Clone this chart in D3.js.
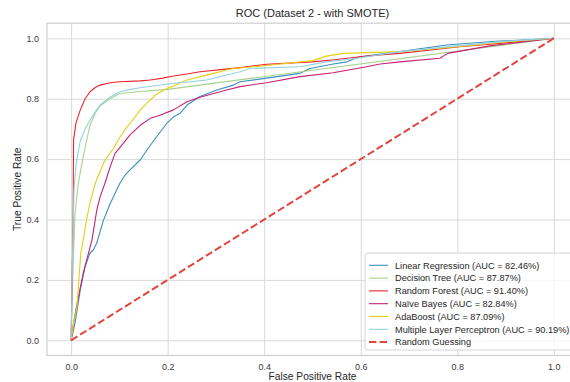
<!DOCTYPE html>
<html>
<head>
<meta charset="utf-8">
<script src="https://cdn.jsdelivr.net/npm/d3@7"></script>
<style>
  html, body { margin: 0; padding: 0; background: #ffffff; }
  svg { display: block; font-family: "Liberation Sans", Arial, sans-serif; }
</style>
</head>
<body>
<svg id="chart" width="570" height="382"></svg>
<script>
// ROC curves per classifier (false positive rate, true positive rate)
const lrFpr = [0, 0.008, 0.019, 0.029, 0.039, 0.046, 0.053, 0.060, 0.067, 0.081, 0.101, 0.112, 0.122, 0.143, 0.157, 0.177, 0.198, 0.212, 0.226, 0.240, 0.267, 0.302, 0.336, 0.350, 0.405, 0.474, 0.495, 0.543, 0.571, 0.598, 0.681, 0.778, 0.880, 1.0];
const lrTpr = [0, 0.057, 0.167, 0.244, 0.289, 0.299, 0.322, 0.360, 0.398, 0.453, 0.520, 0.548, 0.564, 0.597, 0.630, 0.674, 0.718, 0.740, 0.752, 0.779, 0.807, 0.829, 0.845, 0.856, 0.868, 0.884, 0.900, 0.915, 0.922, 0.939, 0.956, 0.978, 0.990, 1.0];

const dtFpr = [0, 0.003, 0.008, 0.015, 0.020, 0.029, 0.039, 0.050, 0.060, 0.080, 0.101, 0.143, 0.200, 1.0];
const dtTpr = [0, 0.200, 0.420, 0.520, 0.565, 0.640, 0.712, 0.752, 0.776, 0.800, 0.817, 0.824, 0.831, 1.0];

const rfFpr = [0, 0.004, 0.005, 0.010, 0.019, 0.029, 0.039, 0.050, 0.060, 0.081, 0.100, 0.143, 0.164, 0.190, 0.212, 0.240, 0.267, 0.315, 0.350, 0.405, 0.500, 0.550, 0.598, 0.640, 0.681, 0.805, 0.900, 1.0];
const rfTpr = [0, 0.400, 0.663, 0.720, 0.763, 0.800, 0.823, 0.837, 0.845, 0.853, 0.856, 0.859, 0.862, 0.868, 0.875, 0.882, 0.889, 0.897, 0.903, 0.914, 0.922, 0.930, 0.939, 0.945, 0.950, 0.972, 0.985, 1.0];

const nbFpr = [0, 0.005, 0.015, 0.025, 0.036, 0.043, 0.048, 0.053, 0.060, 0.070, 0.081, 0.091, 0.108, 0.122, 0.143, 0.164, 0.184, 0.212, 0.240, 0.267, 0.322, 0.350, 0.405, 0.474, 0.543, 0.612, 0.640, 0.681, 0.764, 0.780, 0.867, 0.950, 1.0];
const nbTpr = [0, 0.057, 0.144, 0.222, 0.289, 0.332, 0.380, 0.430, 0.475, 0.520, 0.575, 0.619, 0.652, 0.680, 0.712, 0.735, 0.745, 0.763, 0.790, 0.805, 0.829, 0.840, 0.853, 0.873, 0.886, 0.906, 0.915, 0.922, 0.934, 0.950, 0.975, 0.990, 1.0];

const adaFpr = [0, 0.005, 0.012, 0.017, 0.020, 0.025, 0.032, 0.039, 0.050, 0.060, 0.070, 0.088, 0.100, 0.115, 0.122, 0.143, 0.160, 0.177, 0.198, 0.212, 0.240, 0.281, 0.322, 0.335, 0.405, 0.500, 0.529, 0.564, 0.681, 0.800, 0.900, 1.0];
const adaTpr = [0, 0.057, 0.111, 0.222, 0.289, 0.332, 0.400, 0.454, 0.520, 0.560, 0.597, 0.636, 0.670, 0.705, 0.718, 0.762, 0.790, 0.815, 0.834, 0.842, 0.862, 0.878, 0.895, 0.900, 0.910, 0.926, 0.941, 0.950, 0.956, 0.972, 0.988, 1.0];

const mlpFpr = [0, 0.003, 0.006, 0.010, 0.014, 0.019, 0.029, 0.039, 0.050, 0.060, 0.080, 0.101, 0.120, 0.143, 0.212, 0.246, 0.281, 0.350, 0.370, 0.474, 0.529, 0.592, 0.681, 0.800, 0.900, 1.0];
const mlpTpr = [0, 0.300, 0.500, 0.580, 0.620, 0.660, 0.700, 0.729, 0.757, 0.779, 0.805, 0.823, 0.830, 0.836, 0.851, 0.856, 0.862, 0.889, 0.900, 0.906, 0.922, 0.934, 0.956, 0.975, 0.990, 1.0];

const chanceFpr = [0, 1];
const chanceTpr = [0, 1];

const modelNames = ["Linear Regression", "Decision Tree", "Random Forest", "Naive Bayes", "AdaBoost", "Multiple Layer Perceptron"];
const aucLabels = ["82.46%", "87.87%", "91.40%", "82.84%", "87.09%", "90.19%"];
const modelColors = ["#3a8fc0", "#a9d18e", "#e8262c", "#c42374", "#e6cf10", "#92d2e2"];
const tickValues = [0.0, 0.2, 0.4, 0.6, 0.8, 1.0];

const series = [
  { fpr: lrFpr, tpr: lrTpr },
  { fpr: dtFpr, tpr: dtTpr },
  { fpr: rfFpr, tpr: rfTpr },
  { fpr: nbFpr, tpr: nbTpr },
  { fpr: adaFpr, tpr: adaTpr },
  { fpr: mlpFpr, tpr: mlpTpr }
].map((s, i) => ({
  name: modelNames[i] === "Naive Bayes" ? "Naïve Bayes" : modelNames[i],
  label: (modelNames[i] === "Naive Bayes" ? "Naïve Bayes" : modelNames[i]) + " (AUC = " + aucLabels[i] + ")",
  color: modelColors[i],
  points: s.fpr.map((f, j) => [f, s.tpr[j]])
}));

const svg = d3.select("#chart");
const W = 570, H = 382;
svg.append("rect").attr("width", W).attr("height", H).attr("fill", "#ffffff");

const plot = { left: 47, right: 578, top: 23.2, bottom: 355.4 };
const x = d3.scaleLinear().domain([-0.05, 1.05]).range([plot.left, plot.right]);
const y = d3.scaleLinear().domain([-0.05, 1.05]).range([plot.bottom, plot.top]);

// grid
const xAxis = d3.axisBottom(x).tickValues(tickValues).tickFormat(d3.format(".1f"))
  .tickSize(-(plot.bottom - plot.top)).tickPadding(7);
const yAxis = d3.axisLeft(y).tickValues(tickValues).tickFormat(d3.format(".1f"))
  .tickSize(-(plot.right - plot.left)).tickPadding(8);

const gx = svg.append("g").attr("transform", `translate(0,${plot.bottom})`).call(xAxis);
const gy = svg.append("g").attr("transform", `translate(${plot.left},0)`).call(yAxis);
[gx, gy].forEach(g => {
  g.select(".domain").remove();
  g.selectAll(".tick line").attr("stroke", "#d9d9d9").attr("stroke-width", 1);
  g.selectAll(".tick text").attr("fill", "#3a3a3a").style("font-size", "9px");
});
gx.selectAll(".tick text").attr("dy", "0.9em");

// frame
svg.append("rect")
  .attr("x", plot.left).attr("y", plot.top)
  .attr("width", plot.right - plot.left).attr("height", plot.bottom - plot.top)
  .attr("fill", "none").attr("stroke", "#cfcfcf").attr("stroke-width", 1.2);

const line = d3.line().x(d => x(d[0])).y(d => y(d[1]));

const curves = svg.append("g");
series.forEach(s => {
  curves.append("path")
    .datum(s.points)
    .attr("d", line)
    .attr("fill", "none")
    .attr("stroke", s.color)
    .attr("stroke-width", 1.1)
    .attr("stroke-linejoin", "round");
});

const chanceColor = "#e2453d";
curves.append("path")
  .datum(chanceFpr.map((f, i) => [f, chanceTpr[i]]))
  .attr("d", line)
  .attr("fill", "none")
  .attr("stroke", chanceColor)
  .attr("stroke-width", 2)
  .attr("stroke-dasharray", "7.4,3.2");

// title and axis labels
svg.append("text").attr("x", (plot.left + plot.right) / 2).attr("y", 17)
  .attr("text-anchor", "middle").style("font-size", "11px").attr("fill", "#262626")
  .text("ROC (Dataset 2 - with SMOTE)");
svg.append("text").attr("x", (plot.left + plot.right) / 2).attr("y", 380)
  .attr("text-anchor", "middle").style("font-size", "10.2px").attr("fill", "#262626")
  .text("False Positive Rate");
svg.append("text").attr("transform", `translate(21,${(plot.top + plot.bottom) / 2}) rotate(-90)`)
  .attr("text-anchor", "middle").style("font-size", "10.2px").attr("fill", "#262626")
  .text("True Positive Rate");

// legend
const legendItems = series.map(s => ({ label: s.label, color: s.color, dashed: false }))
  .concat([{ label: "Random Guessing", color: chanceColor, dashed: true }]);
const lg = svg.append("g");
lg.append("rect").attr("x", 365).attr("y", 253).attr("width", 208).attr("height", 97)
  .attr("rx", 3).attr("fill", "#ffffff").attr("fill-opacity", 0.8)
  .attr("stroke", "#d4d4d4").attr("stroke-width", 1);
legendItems.forEach((it, i) => {
  const cy = 265.3 + i * 12.8;
  lg.append("line").attr("x1", 369).attr("x2", 388).attr("y1", cy).attr("y2", cy)
    .attr("stroke", it.color).attr("stroke-width", it.dashed ? 2 : 1.1)
    .attr("stroke-dasharray", it.dashed ? "7.4,3.2" : null);
  lg.append("text").attr("x", 395).attr("y", cy + 3.3)
    .style("font-size", "9.2px").attr("fill", "#262626").text(it.label);
});
</script>
</body>
</html>
